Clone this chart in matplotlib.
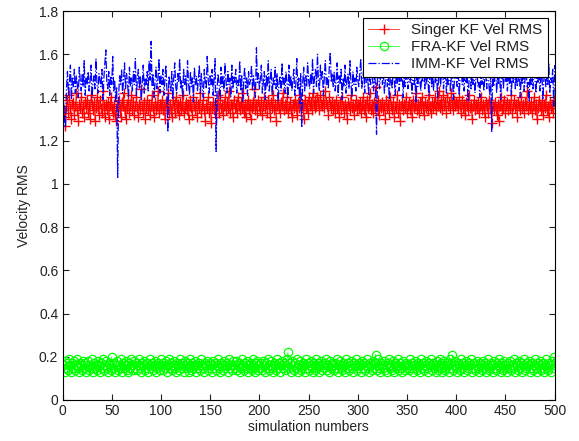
import numpy as np
import matplotlib
matplotlib.use("Agg")
import matplotlib.pyplot as plt

plt.rcParams['font.family'] = ['Liberation Sans', 'DejaVu Sans']

# velocity RMS per simulation run
singer_rms = [
    1.34, 1.31, 1.27, 1.36, 1.39, 1.33, 1.41, 1.35, 1.30, 1.37, 1.38, 1.32, 1.36, 1.42, 1.34, 1.29, 1.37, 1.35, 1.40, 1.33, 1.36, 1.31, 1.38, 1.35, 1.39,
    1.33, 1.36, 1.30, 1.41, 1.37, 1.34, 1.38, 1.29, 1.35, 1.40, 1.36, 1.32, 1.39, 1.35, 1.33, 1.43, 1.36, 1.31, 1.37, 1.34, 1.38, 1.30, 1.36, 1.40, 1.35,
    1.33, 1.37, 1.32, 1.29, 1.36, 1.34, 1.39, 1.35, 1.31, 1.38, 1.36, 1.42, 1.34, 1.30, 1.37, 1.35, 1.39, 1.33, 1.36, 1.41, 1.34, 1.38, 1.32, 1.36, 1.40,
    1.35, 1.31, 1.37, 1.34, 1.44, 1.36, 1.33, 1.38, 1.30, 1.35, 1.39, 1.34, 1.37, 1.32, 1.36, 1.41, 1.35, 1.31, 1.38, 1.34, 1.36, 1.43, 1.33, 1.37, 1.35,
    1.39, 1.34, 1.36, 1.30, 1.38, 1.35, 1.42, 1.33, 1.37, 1.34, 1.31, 1.39, 1.36, 1.33, 1.40, 1.35, 1.37, 1.32, 1.38, 1.34, 1.36, 1.41, 1.33, 1.35, 1.38,
    1.34, 1.37, 1.30, 1.36, 1.39, 1.35, 1.32, 1.40, 1.36, 1.34, 1.38, 1.31, 1.37, 1.35, 1.42, 1.33, 1.36, 1.39, 1.34, 1.29, 1.37, 1.35, 1.40, 1.33, 1.36,
    1.28, 1.35, 1.38, 1.34, 1.37, 1.31, 1.36, 1.41, 1.33, 1.39, 1.35, 1.37, 1.32, 1.36, 1.40, 1.34, 1.38, 1.35, 1.43, 1.33, 1.37, 1.36, 1.31, 1.39, 1.35,
    1.37, 1.33, 1.40, 1.36, 1.34, 1.38, 1.35, 1.42, 1.33, 1.37, 1.31, 1.36, 1.39, 1.34, 1.37, 1.30, 1.35, 1.38, 1.36, 1.44, 1.34, 1.37, 1.33, 1.39, 1.36,
    1.34, 1.38, 1.32, 1.36, 1.40, 1.35, 1.37, 1.33, 1.39, 1.36, 1.31, 1.38, 1.35, 1.41, 1.34, 1.37, 1.29, 1.36, 1.39, 1.35, 1.33, 1.38, 1.36, 1.42, 1.34,
    1.37, 1.35, 1.40, 1.33, 1.36, 1.38, 1.34, 1.31, 1.37, 1.35, 1.39, 1.36, 1.32, 1.38, 1.35, 1.41, 1.34, 1.37, 1.36, 1.30, 1.39, 1.35, 1.37, 1.33, 1.40,
    1.36, 1.38, 1.34, 1.42, 1.37, 1.35, 1.39, 1.36, 1.40, 1.38, 1.34, 1.41, 1.37, 1.36, 1.39, 1.35, 1.43, 1.38, 1.36, 1.32, 1.40, 1.37, 1.35, 1.38, 1.34,
    1.37, 1.33, 1.39, 1.35, 1.36, 1.31, 1.38, 1.34, 1.40, 1.36, 1.33, 1.37, 1.35, 1.30, 1.38, 1.36, 1.34, 1.41, 1.35, 1.37, 1.32, 1.36, 1.39, 1.34, 1.37,
    1.35, 1.38, 1.33, 1.36, 1.40, 1.34, 1.37, 1.31, 1.39, 1.35, 1.36, 1.42, 1.34, 1.37, 1.33, 1.38, 1.35, 1.45, 1.36, 1.34, 1.39, 1.32, 1.37, 1.35, 1.38,
    1.34, 1.36, 1.30, 1.39, 1.35, 1.37, 1.33, 1.40, 1.36, 1.34, 1.38, 1.31, 1.36, 1.35, 1.41, 1.33, 1.37, 1.29, 1.36, 1.38, 1.34, 1.37, 1.35, 1.40, 1.33,
    1.36, 1.38, 1.34, 1.37, 1.31, 1.39, 1.35, 1.36, 1.42, 1.34, 1.37, 1.33, 1.38, 1.35, 1.40, 1.36, 1.32, 1.38, 1.35, 1.37, 1.34, 1.41, 1.36, 1.33, 1.38,
    1.35, 1.37, 1.40, 1.34, 1.38, 1.36, 1.43, 1.35, 1.39, 1.37, 1.34, 1.41, 1.36, 1.38, 1.33, 1.40, 1.36, 1.38, 1.35, 1.42, 1.37, 1.34, 1.39, 1.36, 1.38,
    1.37, 1.35, 1.40, 1.36, 1.33, 1.39, 1.35, 1.37, 1.32, 1.38, 1.36, 1.34, 1.41, 1.35, 1.37, 1.30, 1.36, 1.39, 1.34, 1.37, 1.35, 1.38, 1.33, 1.36, 1.40,
    1.34, 1.37, 1.35, 1.31, 1.38, 1.36, 1.33, 1.39, 1.35, 1.37, 1.28, 1.36, 1.34, 1.38, 1.35, 1.32, 1.37, 1.29, 1.36, 1.40, 1.34, 1.37, 1.35, 1.39, 1.33,
    1.36, 1.38, 1.34, 1.37, 1.35, 1.41, 1.33, 1.36, 1.39, 1.35, 1.37, 1.31, 1.38, 1.36, 1.34, 1.40, 1.35, 1.37, 1.33, 1.38, 1.36, 1.43, 1.34, 1.37, 1.35,
    1.38, 1.33, 1.36, 1.40, 1.34, 1.37, 1.30, 1.35, 1.39, 1.36, 1.34, 1.38, 1.32, 1.37, 1.35, 1.41, 1.34, 1.36, 1.31, 1.38, 1.35, 1.37, 1.33, 1.39, 1.36,
]

fra_rms = [
    0.16, 0.13, 0.18, 0.15, 0.17, 0.14, 0.19, 0.16, 0.13, 0.17, 0.15, 0.18, 0.14, 0.16, 0.19, 0.15, 0.13, 0.17, 0.16, 0.14, 0.18, 0.15, 0.17, 0.13, 0.16,
    0.18, 0.14, 0.16, 0.15, 0.19, 0.13, 0.17, 0.15, 0.16, 0.14, 0.18, 0.16, 0.13, 0.17, 0.15, 0.19, 0.14, 0.16, 0.18, 0.15, 0.13, 0.17, 0.16, 0.14, 0.20,
    0.15, 0.17, 0.13, 0.16, 0.18, 0.14, 0.16, 0.15, 0.19, 0.13, 0.17, 0.15, 0.16, 0.18, 0.14, 0.16, 0.13, 0.17, 0.15, 0.19, 0.16, 0.14, 0.18, 0.15, 0.17,
    0.14, 0.16, 0.19, 0.15, 0.13, 0.17, 0.16, 0.18, 0.14, 0.15, 0.17, 0.13, 0.16, 0.19, 0.15, 0.17, 0.14, 0.16, 0.18, 0.13, 0.15, 0.17, 0.16, 0.14, 0.19,
    0.16, 0.14, 0.17, 0.15, 0.18, 0.13, 0.16, 0.19, 0.15, 0.17, 0.14, 0.16, 0.18, 0.15, 0.13, 0.17, 0.16, 0.14, 0.19, 0.15, 0.17, 0.16, 0.13, 0.18, 0.15,
    0.17, 0.15, 0.13, 0.16, 0.19, 0.14, 0.17, 0.15, 0.16, 0.18, 0.13, 0.16, 0.15, 0.17, 0.14, 0.19, 0.16, 0.15, 0.13, 0.17, 0.16, 0.18, 0.14, 0.15, 0.17,
    0.16, 0.13, 0.18, 0.15, 0.17, 0.14, 0.16, 0.19, 0.15, 0.13, 0.17, 0.16, 0.14, 0.18, 0.15, 0.16, 0.17, 0.13, 0.19, 0.15, 0.16, 0.14, 0.18, 0.16, 0.15,
    0.18, 0.14, 0.16, 0.17, 0.13, 0.15, 0.19, 0.16, 0.14, 0.17, 0.15, 0.18, 0.13, 0.16, 0.15, 0.17, 0.14, 0.19, 0.16, 0.15, 0.13, 0.17, 0.18, 0.14, 0.16,
    0.15, 0.17, 0.14, 0.18, 0.16, 0.13, 0.17, 0.15, 0.19, 0.14, 0.16, 0.18, 0.15, 0.13, 0.17, 0.16, 0.14, 0.19, 0.15, 0.17, 0.13, 0.16, 0.18, 0.15, 0.17,
    0.14, 0.16, 0.19, 0.22, 0.15, 0.17, 0.13, 0.18, 0.16, 0.14, 0.17, 0.15, 0.19, 0.13, 0.16, 0.18, 0.14, 0.15, 0.17, 0.16, 0.13, 0.19, 0.15, 0.17, 0.14,
    0.16, 0.18, 0.15, 0.13, 0.17, 0.16, 0.14, 0.19, 0.15, 0.17, 0.13, 0.16, 0.18, 0.14, 0.16, 0.15, 0.17, 0.19, 0.14, 0.16, 0.13, 0.18, 0.15, 0.17, 0.16,
    0.14, 0.17, 0.15, 0.19, 0.13, 0.16, 0.18, 0.15, 0.14, 0.17, 0.16, 0.13, 0.19, 0.15, 0.17, 0.14, 0.16, 0.18, 0.15, 0.13, 0.17, 0.16, 0.19, 0.14, 0.15,
    0.17, 0.16, 0.13, 0.18, 0.15, 0.17, 0.14, 0.16, 0.19, 0.15, 0.13, 0.17, 0.16, 0.14, 0.18, 0.15, 0.17, 0.21, 0.14, 0.16, 0.19, 0.15, 0.13, 0.17, 0.16,
    0.15, 0.18, 0.14, 0.16, 0.13, 0.17, 0.19, 0.15, 0.16, 0.14, 0.18, 0.13, 0.17, 0.15, 0.16, 0.19, 0.14, 0.17, 0.15, 0.13, 0.18, 0.16, 0.14, 0.17, 0.15,
    0.16, 0.14, 0.19, 0.15, 0.17, 0.13, 0.16, 0.18, 0.15, 0.14, 0.17, 0.16, 0.13, 0.19, 0.15, 0.17, 0.14, 0.16, 0.18, 0.15, 0.13, 0.17, 0.16, 0.19, 0.14,
    0.17, 0.15, 0.16, 0.13, 0.18, 0.14, 0.16, 0.19, 0.15, 0.17, 0.13, 0.16, 0.18, 0.14, 0.15, 0.17, 0.16, 0.13, 0.19, 0.15, 0.21, 0.14, 0.16, 0.18, 0.15,
    0.13, 0.17, 0.16, 0.14, 0.19, 0.15, 0.17, 0.13, 0.16, 0.18, 0.14, 0.15, 0.17, 0.16, 0.19, 0.13, 0.15, 0.17, 0.14, 0.16, 0.18, 0.15, 0.13, 0.17, 0.16,
    0.14, 0.18, 0.15, 0.17, 0.13, 0.16, 0.19, 0.14, 0.15, 0.17, 0.16, 0.13, 0.18, 0.15, 0.14, 0.17, 0.16, 0.19, 0.15, 0.13, 0.17, 0.14, 0.16, 0.18, 0.15,
    0.16, 0.13, 0.17, 0.15, 0.18, 0.14, 0.16, 0.15, 0.19, 0.13, 0.17, 0.16, 0.14, 0.18, 0.15, 0.17, 0.13, 0.16, 0.19, 0.14, 0.15, 0.17, 0.16, 0.18, 0.13,
    0.15, 0.17, 0.14, 0.16, 0.19, 0.15, 0.13, 0.17, 0.16, 0.18, 0.14, 0.15, 0.17, 0.13, 0.16, 0.19, 0.15, 0.14, 0.17, 0.16, 0.13, 0.18, 0.15, 0.20, 0.17,
]

imm_rms = [
    1.38, 1.30, 1.26, 1.44, 1.52, 1.41, 1.47, 1.55, 1.39, 1.49, 1.45, 1.53, 1.42, 1.50, 1.46, 1.40, 1.54, 1.48, 1.43, 1.51, 1.45, 1.57, 1.41, 1.49, 1.46,
    1.52, 1.43, 1.48, 1.55, 1.40, 1.47, 1.50, 1.44, 1.58, 1.46, 1.42, 1.51, 1.48, 1.45, 1.53, 1.39, 1.49, 1.56, 1.62, 1.47, 1.44, 1.52, 1.41, 1.50, 1.46,
    1.59, 1.43, 1.48, 1.38, 1.45, 1.03, 1.41, 1.50, 1.46, 1.53, 1.42, 1.48, 1.56, 1.44, 1.51, 1.47, 1.40, 1.54, 1.45, 1.49, 1.43, 1.52, 1.46, 1.58, 1.41,
    1.48, 1.53, 1.44, 1.50, 1.39, 1.47, 1.55, 1.42, 1.49, 1.46, 1.52, 1.43, 1.57, 1.48, 1.66, 1.45, 1.51, 1.40, 1.47, 1.54, 1.44, 1.49, 1.58, 1.42, 1.50,
    1.46, 1.53, 1.41, 1.48, 1.55, 1.44, 1.24, 1.50, 1.47, 1.43, 1.52, 1.39, 1.49, 1.56, 1.45, 1.42, 1.51, 1.47, 1.58, 1.44, 1.48, 1.40, 1.53, 1.46, 1.50,
    1.43, 1.57, 1.47, 1.41, 1.52, 1.45, 1.49, 1.38, 1.54, 1.46, 1.50, 1.43, 1.48, 1.55, 1.42, 1.51, 1.45, 1.40, 1.53, 1.47, 1.44, 1.59, 1.48, 1.42, 1.50,
    1.46, 1.53, 1.41, 1.49, 1.58, 1.15, 1.44, 1.51, 1.47, 1.39, 1.54, 1.45, 1.50, 1.43, 1.56, 1.48, 1.42, 1.52, 1.46, 1.49, 1.40, 1.55, 1.44, 1.50, 1.47,
    1.53, 1.42, 1.48, 1.45, 1.57, 1.43, 1.50, 1.38, 1.47, 1.54, 1.44, 1.49, 1.41, 1.52, 1.46, 1.48, 1.55, 1.43, 1.50, 1.45, 1.40, 1.63, 1.47, 1.51, 1.44,
    1.49, 1.55, 1.42, 1.47, 1.52, 1.39, 1.50, 1.45, 1.57, 1.43, 1.48, 1.53, 1.41, 1.49, 1.46, 1.54, 1.44, 1.51, 1.38, 1.47, 1.50, 1.43, 1.56, 1.46, 1.49,
    1.42, 1.52, 1.47, 1.40, 1.55, 1.45, 1.50, 1.43, 1.48, 1.53, 1.41, 1.46, 1.58, 1.44, 1.49, 1.37, 1.51, 1.26, 1.47, 1.54, 1.43, 1.50, 1.45, 1.56, 1.48,
    1.44, 1.51, 1.46, 1.58, 1.42, 1.49, 1.53, 1.45, 1.60, 1.47, 1.43, 1.55, 1.48, 1.52, 1.41, 1.50, 1.57, 1.46, 1.49, 1.44, 1.54, 1.61, 1.47, 1.51, 1.45,
    1.52, 1.43, 1.48, 1.56, 1.41, 1.50, 1.46, 1.53, 1.39, 1.49, 1.45, 1.55, 1.42, 1.48, 1.51, 1.44, 1.57, 1.47, 1.40, 1.52, 1.46, 1.49, 1.43, 1.54, 1.48,
    1.45, 1.51, 1.58, 1.44, 1.49, 1.53, 1.42, 1.56, 1.47, 1.50, 1.41, 1.54, 1.46, 1.59, 1.48, 1.43, 1.52, 1.45, 1.23, 1.50, 1.55, 1.44, 1.49, 1.57, 1.46,
    1.51, 1.42, 1.48, 1.55, 1.45, 1.50, 1.39, 1.53, 1.47, 1.44, 1.56, 1.49, 1.41, 1.52, 1.46, 1.58, 1.43, 1.50, 1.47, 1.54, 1.40, 1.49, 1.45, 1.53, 1.48,
    1.44, 1.57, 1.47, 1.50, 1.42, 1.54, 1.46, 1.49, 1.38, 1.52, 1.45, 1.56, 1.48, 1.43, 1.51, 1.47, 1.59, 1.44, 1.50, 1.46, 1.53, 1.41, 1.48, 1.55, 1.45,
    1.50, 1.43, 1.56, 1.47, 1.52, 1.40, 1.49, 1.54, 1.45, 1.51, 1.58, 1.44, 1.48, 1.53, 1.42, 1.50, 1.46, 1.57, 1.43, 1.49, 1.52, 1.39, 1.47, 1.55, 1.48,
    1.45, 1.53, 1.41, 1.50, 1.56, 1.46, 1.49, 1.43, 1.54, 1.47, 1.51, 1.38, 1.48, 1.55, 1.44, 1.50, 1.46, 1.58, 1.42, 1.49, 1.53, 1.45, 1.47, 1.40, 1.52,
    1.46, 1.55, 1.43, 1.49, 1.51, 1.44, 1.57, 1.47, 1.41, 1.50, 1.24, 1.53, 1.45, 1.48, 1.56, 1.42, 1.50, 1.46, 1.54, 1.39, 1.48, 1.52, 1.44, 1.57, 1.47,
    1.50, 1.43, 1.55, 1.46, 1.49, 1.41, 1.53, 1.47, 1.58, 1.44, 1.51, 1.45, 1.48, 1.54, 1.40, 1.50, 1.46, 1.56, 1.43, 1.49, 1.52, 1.45, 1.47, 1.38, 1.53,
    1.46, 1.50, 1.44, 1.57, 1.48, 1.42, 1.52, 1.47, 1.55, 1.43, 1.49, 1.51, 1.39, 1.48, 1.54, 1.45, 1.50, 1.46, 1.56, 1.42, 1.49, 1.47, 1.53, 1.36, 1.55,
]

runs = np.arange(1, len(singer_rms) + 1)

fig = plt.figure(figsize=(5.79, 4.41), dpi=100)
ax = fig.add_axes([0.108, 0.093, 0.850, 0.882])

ax.plot(runs, singer_rms, '-+', color='#ff0000', lw=0.5, ms=7.5, mew=1.0, label='Singer KF Vel RMS')
ax.plot(runs, fra_rms, '-o', color='#00ff00', lw=0.5, ms=6, mew=0.9, mfc='none', label='FRA-KF Vel RMS')
ax.plot(runs, imm_rms, '-.', color='#0000ff', lw=0.9, label='IMM-KF Vel RMS')

ax.set_xlim(0, 500)
ax.set_ylim(0, 1.8)
ax.set_xticks(np.arange(0, 501, 50))
ax.set_yticks(np.arange(0, 1.81, 0.2))
ax.set_yticklabels(['0', '0.2', '0.4', '0.6', '0.8', '1', '1.2', '1.4', '1.6', '1.8'])
ax.tick_params(direction='in', length=4, labelsize=10, colors='#222222', pad=3,
               top=True, right=True, labeltop=False, labelright=False)
for s in ax.spines.values():
    s.set_linewidth(0.8)
    s.set_color('black')

ax.set_xlabel('simulation numbers', fontsize=10, color='#222222', labelpad=1)
ax.set_ylabel('Velocity RMS', fontsize=10, color='#222222', labelpad=6)

leg = ax.legend(loc='upper right', fontsize=11, fancybox=False, framealpha=1,
                edgecolor='black', borderaxespad=0.45, handlelength=2.0,
                labelspacing=0.2, borderpad=0.35, handletextpad=0.8)
leg.get_frame().set_linewidth(0.8)
for t in leg.get_texts():
    t.set_color('#222222')

fig.savefig('out.png', dpi=100)
